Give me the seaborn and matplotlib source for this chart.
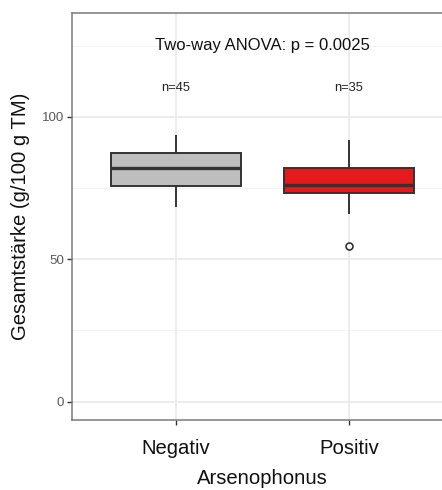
import matplotlib
matplotlib.use("Agg")
import matplotlib.pyplot as plt
import seaborn as sns
import pandas as pd
from matplotlib.ticker import MultipleLocator

# Starch content per Arsenophonus status (values that define the box summaries)
categories = ["Negativ", "Positiv"]
negativ_values = [68.4, 75.7, 82.0, 87.4, 93.8]
positiv_values = [54.6, 65.9, 73.3, 73.3, 75.9, 82.0, 82.0, 92.0, 92.0]
group_sizes = ["n=45", "n=35"]
box_colors = ["#BEBEBE", "#E41A1C"]
anova_label = "Two-way ANOVA: p = 0.0025"
y_ticks = [0, 50, 100]

df = pd.DataFrame({
    "Arsenophonus": [categories[0]] * len(negativ_values) + [categories[1]] * len(positiv_values),
    "Gesamtstaerke": negativ_values + positiv_values,
})

sns.set_style("white")
plt.rcParams["font.family"] = ["Liberation Sans", "DejaVu Sans"]

fig = plt.figure(figsize=(4.42, 4.90), dpi=100)
ax = fig.add_axes([72 / 442, 1 - 420 / 490, 380.6 / 442, 407 / 490])

edge = "#333333"
sns.boxplot(
    data=df, x="Arsenophonus", y="Gesamtstaerke", hue="Arsenophonus",
    order=categories, hue_order=categories, palette=box_colors, legend=False,
    width=0.75, linecolor=edge, linewidth=1.4, saturation=1,
    medianprops={"linewidth": 2.4, "color": edge},
    whiskerprops={"linewidth": 1.4, "color": edge},
    capprops={"linewidth": 0},
    flierprops={"marker": "o", "markersize": 5, "markerfacecolor": "white",
                "markeredgecolor": edge, "markeredgewidth": 1.2},
    ax=ax, zorder=3,
)

ax.set_xlim(-0.6, 1.6)
ax.set_ylim(-6.5, 136.5)
ax.set_yticks(y_ticks)
ax.yaxis.set_minor_locator(MultipleLocator(25))

ax.grid(True, which="major", color="#EBEBEB", linewidth=1.3, zorder=0)
ax.grid(True, which="minor", axis="y", color="#F2F2F2", linewidth=0.7, zorder=0)
ax.set_axisbelow(True)

for side in ["left", "bottom", "top", "right"]:
    ax.spines[side].set_visible(True)
    ax.spines[side].set_color("#7A7A7A")
    ax.spines[side].set_linewidth(1.1)

ax.tick_params(axis="y", which="major", left=True, length=3.5, width=1, color="#333333",
               labelsize=9.6, labelcolor="#5A5A5A", pad=2)
ax.tick_params(axis="y", which="minor", left=False, length=0)
ax.tick_params(axis="x", which="major", bottom=True, length=3.5, width=1, color="#333333",
               labelsize=14.6, labelcolor="#111111", pad=10)

ax.set_xlabel("Arsenophonus", fontsize=14.6, color="#111111", labelpad=8)
ax.set_ylabel("Gesamtstärke (g/100 g TM)", fontsize=14.6, color="#111111", labelpad=9)

ax.text(0.5, 125, anova_label, ha="center", va="center", fontsize=12, color="#111111")
for i, label in enumerate(group_sizes):
    ax.text(i, 110, label, ha="center", va="center", fontsize=9.3, color="#222222")

fig.savefig("out.png", dpi=100)
